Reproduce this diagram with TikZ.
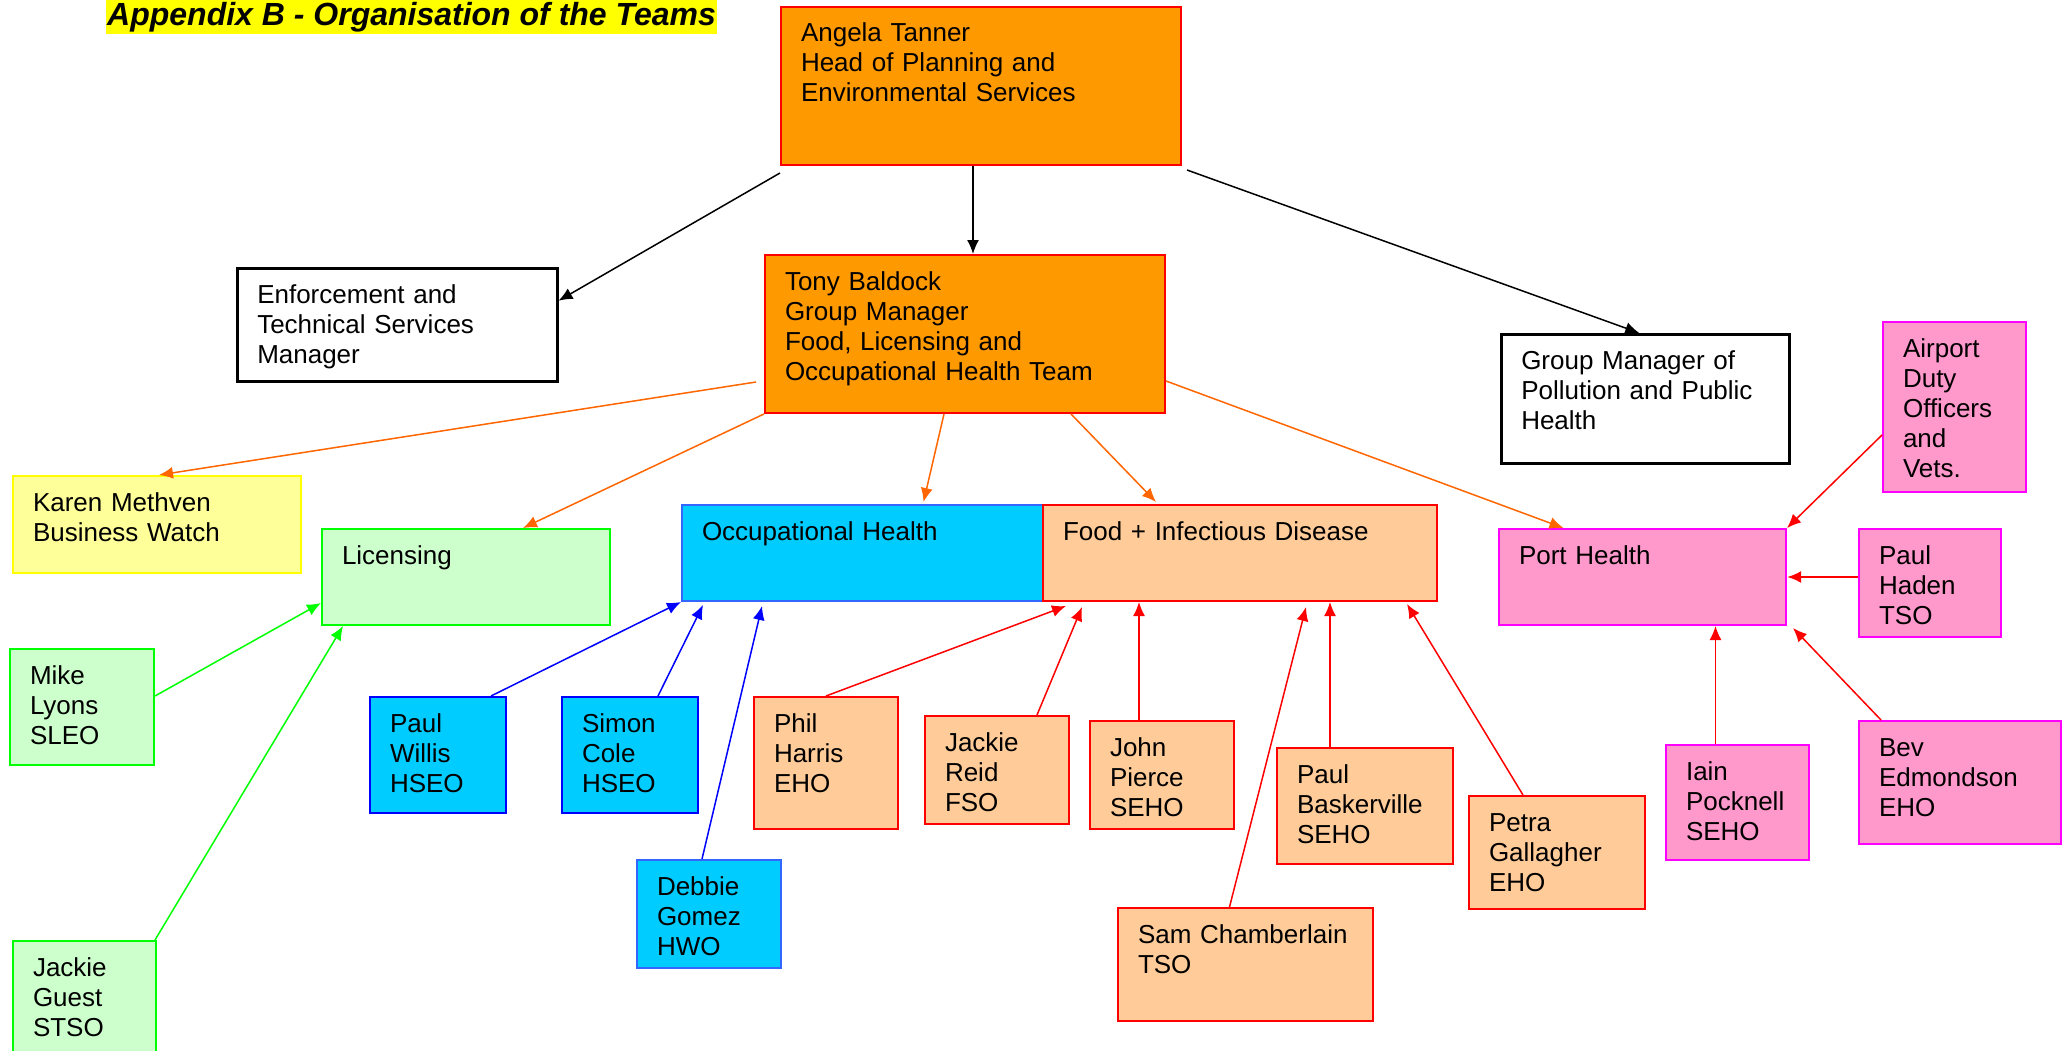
\documentclass[tikz,border=0pt]{standalone}
\usepackage{fontspec}
\setmainfont{Liberation Sans}
\usepackage{xcolor}
\usetikzlibrary{arrows.meta}

\definecolor{headorange}{HTML}{FF9900}
\definecolor{linkorange}{HTML}{FF6600}
\definecolor{peach}{HTML}{FFCC99}
\definecolor{pinkfill}{HTML}{FF99CC}
\definecolor{pinkline}{HTML}{FF00FF}
\definecolor{skyblue}{HTML}{00CCFF}
\definecolor{softblue}{HTML}{3366FF}
\definecolor{mint}{HTML}{CCFFCC}
\definecolor{paleyellow}{HTML}{FFFF99}
\definecolor{brightyellow}{HTML}{FFFF00}

\begin{document}
\begin{tikzpicture}[x=1pt,y=-1pt]
\tikzset{box/.style={draw, line width=2pt, anchor=north west, inner xsep=20pt, inner ysep=0pt,
  text height=35pt, align=left, font=\fontsize{26}{30}\selectfont}}
\tikzset{head/.style={box, fill=headorange, draw=red}}
\tikzset{mgr/.style={box, fill=white, draw=black, line width=2.5pt}}
\tikzset{watch/.style={box, fill=paleyellow, draw=brightyellow}}
\tikzset{lic/.style={box, fill=mint, draw=green}}
\tikzset{occ/.style={box, fill=skyblue, draw=blue}}
\tikzset{food/.style={box, fill=peach, draw=red}}
\tikzset{port/.style={box, fill=pinkfill, draw=pinkline}}
\tikzset{conn/.style={line width=1.5pt, -{Latex[length=14pt,width=12pt]}}}

\useasboundingbox (0,0) rectangle (2069,1051);

% title
\node[fill=brightyellow, anchor=base west, inner xsep=1pt, inner ysep=0pt, text height=26pt, text depth=8pt,
  font=\fontsize{32}{36}\selectfont\bfseries\itshape] (title) at (106,26) {Appendix B - Organisation of the Teams};

% managers
\node[head, text width=360pt, text depth=123pt] (angela) at (780,6) {Angela Tanner\\Head of Planning and\\Environmental Services};
\node[mgr, text width=280pt, text depth=78pt] (enf) at (236,267) {Enforcement and\\Technical Services\\Manager};
\node[head, text width=360pt, text depth=123pt] (tony) at (764,254) {Tony Baldock\\Group Manager\\Food, Licensing and\\Occupational Health Team};
\node[mgr, text width=248pt, text depth=94pt] (pph) at (1500,333) {Group Manager of\\Pollution and Public\\Health};

% teams
\node[watch, text width=248pt, text depth=62pt] (karen) at (12,475) {Karen Methven\\Business Watch};
\node[lic, text width=248pt, text depth=61pt] (licensing) at (321,528) {Licensing};
\node[occ, draw=softblue, text width=321pt, text depth=61pt] (occhealth) at (681,504) {Occupational Health};
\node[food, text width=354pt, text depth=61pt] (fid) at (1042,504) {Food + Infectious Disease};
\node[port, text width=247pt, text depth=61pt] (porthealth) at (1498,528) {Port Health};

% staff
\node[lic, text width=104pt, text depth=81pt] (mike) at (9,648) {Mike\\Lyons\\SLEO};
\node[lic, text width=103pt, text depth=80pt] (guest) at (12,940) {Jackie\\Guest\\STSO};
\node[occ, text width=96pt, text depth=81pt] (willis) at (369,696) {Paul\\Willis\\HSEO};
\node[occ, text width=96pt, text depth=81pt] (simon) at (561,696) {Simon\\Cole\\HSEO};
\node[occ, draw=softblue, text width=104pt, text depth=73pt] (debbie) at (636,859) {Debbie\\Gomez\\HWO};
\node[food, text width=104pt, text depth=97pt] (phil) at (753,696) {Phil\\Harris\\EHO};
\node[food, text width=104pt, text depth=73pt] (reid) at (924,715) {Jackie\\Reid\\FSO};
\node[food, text width=104pt, text depth=73pt] (john) at (1089,720) {John\\Pierce\\SEHO};
\node[food, text width=215pt, text depth=78pt] (sam) at (1117,907) {Sam Chamberlain\\TSO};
\node[food, text width=136pt, text depth=81pt] (bask) at (1276,747) {Paul\\Baskerville\\SEHO};
\node[food, text width=136pt, text depth=78pt] (petra) at (1468,795) {Petra\\Gallagher\\EHO};
\node[port, text width=103pt, text depth=135pt] (airport) at (1882,321) {Airport\\Duty\\Officers\\and\\Vets.};
\node[port, text width=102pt, text depth=73pt] (haden) at (1858,528) {Paul\\Haden\\TSO};
\node[port, text width=103pt, text depth=80pt] (iain) at (1665,744) {Iain\\Pocknell\\SEHO};
\node[port, text width=162pt, text depth=88pt] (bev) at (1858,720) {Bev\\Edmondson\\EHO};

% head of service
\draw[conn] ([yshift=-7pt]angela.south west) -- ([yshift=24pt]enf.east);
\draw[conn] ([xshift=-8pt]angela.south) -- ([xshift=8pt]tony.north);
\draw[conn] ([xshift=5pt,yshift=-4pt]angela.south east) -- ([xshift=-6pt]pph.north);

% group manager
\draw[conn, linkorange] ([xshift=-8pt,yshift=32pt]tony.south west) -- ([xshift=2pt]karen.north);
\draw[conn, linkorange] (tony.south west) -- ([xshift=57pt]licensing.north);
\draw[conn, linkorange] ([xshift=-21pt]tony.south) -- ([xshift=61pt,yshift=2pt]occhealth.north);
\draw[conn, linkorange] ([xshift=106pt]tony.south) -- ([xshift=-84pt,yshift=2pt]fid.north);
\draw[conn, linkorange] ([yshift=33pt]tony.south east) -- ([xshift=-79pt]porthealth.north);

% licensing
\draw[conn, green] ([yshift=11pt]mike.east) -- ([yshift=23pt]licensing.south west);
\draw[conn, green] ([xshift=-2pt]guest.north east) -- ([xshift=22pt]licensing.south west);

% occupational health
\draw[conn, blue] ([xshift=53pt]willis.north) -- (occhealth.south west);
\draw[conn, blue] ([xshift=28pt]simon.north) -- ([xshift=22pt,yshift=-3pt]occhealth.south west);
\draw[conn, blue] ([xshift=-7pt]debbie.north) -- ([xshift=81pt,yshift=-4pt]occhealth.south west);

% food
\draw[conn, red] (phil.north) -- ([xshift=24pt,yshift=-4pt]fid.south west);
\draw[conn, red] ([xshift=-33pt]reid.north east) -- ([xshift=40pt,yshift=-5pt]fid.south west);
\draw[conn, red] ([xshift=-23pt]john.north) -- ([xshift=-23pt]john.north |- fid.south);
\draw[conn, red] ([xshift=-16pt]sam.north) -- ([xshift=66pt,yshift=-5pt]fid.south);
\draw[conn, red] ([xshift=-35pt]bask.north) -- ([xshift=-35pt]bask.north |- fid.south);
\draw[conn, red] ([xshift=-34pt]petra.north) -- ([xshift=-31pt,yshift=-2pt]fid.south east);

% port health
\draw[conn, red] ([yshift=58pt]airport.south west) -- (porthealth.north east);
\draw[conn, red, line width=2.5pt] (haden.west |- porthealth.east) -- (porthealth.east);
\draw[conn, red] ([xshift=-22pt]iain.north) -- ([xshift=-22pt]iain.north |- porthealth.south);
\draw[conn, red] ([xshift=23pt]bev.north west) -- ([xshift=6pt,yshift=-2pt]porthealth.south east);
\end{tikzpicture}
\end{document}
